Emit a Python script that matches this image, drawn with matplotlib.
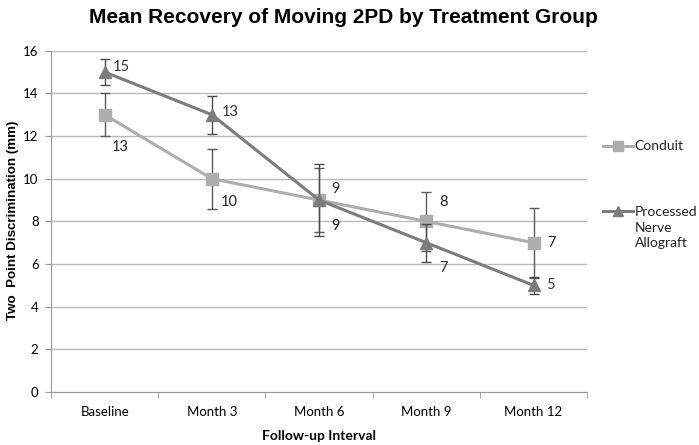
import numpy as np
import matplotlib.pyplot as plt
from matplotlib.lines import Line2D

categories = ["Baseline", "Month 3", "Month 6", "Month 9", "Month 12"]
conduit = [13, 10, 9, 8, 7]
conduit_err = [1.0, 1.4, 1.5, 1.4, 1.65]
allograft = [15, 13, 9, 7, 5]
allograft_err = [0.6, 0.9, 1.7, 0.9, 0.4]

# data label offsets in points (dx, dy)
conduit_offsets = [(5, -23), (6.5, -17), (9, -19), (9, 14), (10, 0)]
allograft_offsets = [(6, 4), (7, 2), (9, 8), (9, -18), (9, 0)]

light = "#adadad"
dark = "#7c7c7c"

fig = plt.figure(figsize=(6.99, 4.45), dpi=100)
ax = fig.add_axes([0.073, 0.119, 0.767, 0.767])

x = np.arange(len(categories))

ax.errorbar(x, conduit, yerr=conduit_err, color=light, lw=2.2, marker="s", ms=8,
            ecolor="#5a5a5a", elinewidth=1, capsize=3.5, capthick=1, zorder=3)
ax.errorbar(x, allograft, yerr=allograft_err, color=dark, lw=2.2, marker="^", ms=9,
            ecolor="#4a4a4a", elinewidth=1, capsize=3.5, capthick=1, zorder=4)

for xi, v, (dx, dy) in zip(x, conduit, conduit_offsets):
    ax.annotate(str(v), (xi, v), xytext=(dx, dy), textcoords="offset points",
                ha="left", va="center", fontsize=10.5, family="Lato", color="#222222")
for xi, v, (dx, dy) in zip(x, allograft, allograft_offsets):
    ax.annotate(str(v), (xi, v), xytext=(dx, dy), textcoords="offset points",
                ha="left", va="center", fontsize=10.5, family="Lato", color="#333333")

ax.set_xlim(-0.5, len(categories) - 0.5)
ax.set_ylim(0, 16)
ax.set_yticks(range(0, 17, 2))
ax.set_xticks(x)
ax.set_xticklabels(categories, family="Lato", fontsize=9.5)
for lbl in ax.get_yticklabels():
    lbl.set_family("Lato")
    lbl.set_fontsize(9.5)
ax.set_xticks(np.arange(-0.5, len(categories), 1), minor=True)
ax.tick_params(axis="x", which="major", length=0, pad=10)
ax.tick_params(axis="x", which="minor", length=4, color="#999999")
ax.tick_params(axis="y", length=4, color="#999999", pad=5)

ax.grid(axis="y", color="#bbbbbb", lw=1)
ax.set_axisbelow(True)
for side in ["top", "right"]:
    ax.spines[side].set_visible(False)
for side in ["left", "bottom"]:
    ax.spines[side].set_color("#999999")

ax.set_xlabel("Follow-up Interval", family="Lato", fontweight="bold", fontsize=10, labelpad=9)
fig.text(0.018, 0.505, "Two  Point Discrimination (mm)", rotation=90,
         ha="center", va="center", family="Liberation Sans", fontweight="bold",
         fontsize=9.6)
fig.text(0.492, 0.96, "Mean Recovery of Moving 2PD by Treatment Group",
         ha="center", va="center", family="Liberation Sans", fontweight="bold",
         fontsize=15)

# legend drawn by hand so the handle sits next to the first text line
legend_items = [("Conduit", light, "s", 0.672, 0.672),
                ("Processed\nNerve\nAllograft", dark, "^", 0.526, 0.537)]
for text, col, mk, ly, ty in legend_items:
    fig.add_artist(Line2D([0.862, 0.905], [ly, ly], transform=fig.transFigure,
                          color=col, lw=2.2))
    fig.add_artist(Line2D([0.8835], [ly], transform=fig.transFigure, color=col,
                          marker=mk, ms=6.5, lw=0))
    fig.text(0.908, ty, text, ha="left", va="top" if "\n" in text else "center",
             family="Lato", fontsize=10, linespacing=1.35, color="#222222",
             transform=fig.transFigure)

fig.savefig("out.png", dpi=100)
